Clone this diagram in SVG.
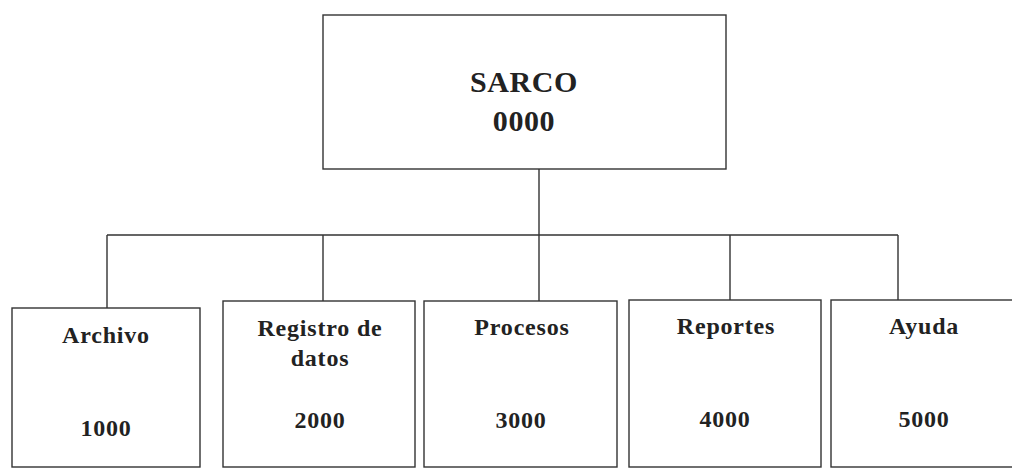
<svg xmlns="http://www.w3.org/2000/svg" width="1012" height="469" viewBox="0 0 1012 469">
<style>
.box{fill:#fff;stroke:#333;stroke-width:1.4}
.ln{fill:none;stroke:#333;stroke-width:1.4}
.t{font-family:"Liberation Serif","Times New Roman",serif;font-weight:bold;font-size:24px;fill:#222;text-anchor:middle;letter-spacing:0.8px}
.big{font-size:30px;letter-spacing:0.6px}
</style>
<rect width="1012" height="469" fill="#fff"/>
<g id="connectors">
<path class="ln" d="M539 169V235M107 235H898M107 235V308M323 235V301M539 235V301M730 235V300M898 235V300"/>
</g>
<g id="n0000">
<rect class="box" x="323" y="15" width="403" height="154"/>
<text class="t big" x="524" y="92">SARCO</text>
<text class="t big" x="524" y="131">0000</text>
</g>
<g id="n1000">
<rect class="box" x="12" y="308" width="188" height="159"/>
<text class="t" x="106" y="343">Archivo</text>
<text class="t" x="106" y="436">1000</text>
</g>
<g id="n2000">
<rect class="box" x="223" y="301" width="192" height="166"/>
<text class="t" x="320" y="336">Registro de</text>
<text class="t" x="320" y="366">datos</text>
<text class="t" x="320" y="428">2000</text>
</g>
<g id="n3000">
<rect class="box" x="424" y="301" width="193" height="166"/>
<text class="t" x="522" y="335">Procesos</text>
<text class="t" x="521" y="428">3000</text>
</g>
<g id="n4000">
<rect class="box" x="629" y="300" width="192" height="167"/>
<text class="t" x="726" y="334">Reportes</text>
<text class="t" x="725" y="427">4000</text>
</g>
<g id="n5000">
<rect class="box" x="831" y="300" width="190" height="167"/>
<text class="t" x="924" y="334">Ayuda</text>
<text class="t" x="924" y="427">5000</text>
</g>
</svg>
